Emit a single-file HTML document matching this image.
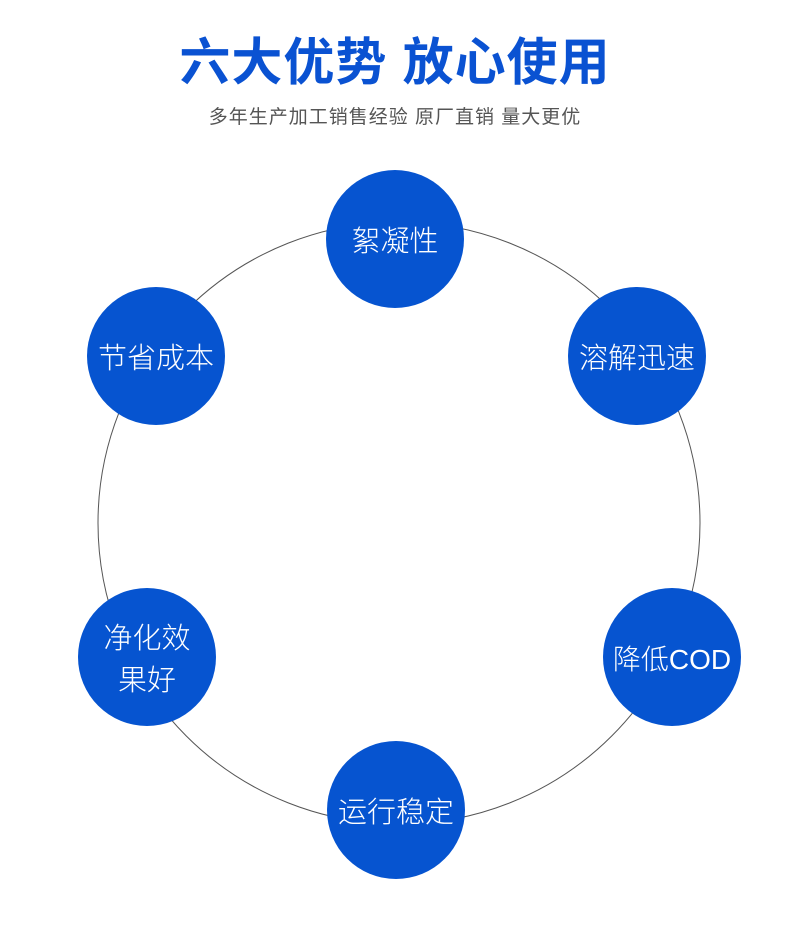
<!DOCTYPE html>
<html><head><meta charset="utf-8"><style>
body{margin:0;width:790px;height:939px;background:#fff;position:relative;overflow:hidden;font-family:"Liberation Sans","Noto Sans CJK SC",sans-serif}
.t{position:absolute;left:0;width:790px;text-align:center;top:32px;font-size:51px;font-weight:bold;color:#0a52d2;line-height:62px;letter-spacing:1px}
.s{position:absolute;left:0;width:790px;text-align:center;top:105px;font-size:19px;color:#555;line-height:26px;letter-spacing:1px}
.n{position:absolute;width:138px;height:138px;border-radius:50%;background:#0654d0;color:#fff;display:flex;align-items:center;justify-content:center;text-align:center;font-size:29px;line-height:42px;font-weight:300}
.n span{position:relative;top:3px}
</style></head><body>
<div class="t">六大优势 放心使用</div>
<div class="s">多年生产加工销售经验 原厂直销 量大更优</div>
<svg width="790" height="939" style="position:absolute;left:0;top:0"><circle cx="399" cy="523" r="301" fill="none" stroke="#555" stroke-width="1"/></svg>
<div class="n" style="left:326px;top:170px"><span>絮凝性</span></div>
<div class="n" style="left:87px;top:287px"><span>节省成本</span></div>
<div class="n" style="left:568px;top:287px"><span>溶解迅速</span></div>
<div class="n" style="left:78px;top:588px"><span>净化效<br>果好</span></div>
<div class="n" style="left:603px;top:588px;font-size:28px"><span>降低COD</span></div>
<div class="n" style="left:327px;top:741px"><span>运行稳定</span></div>
</body></html>
